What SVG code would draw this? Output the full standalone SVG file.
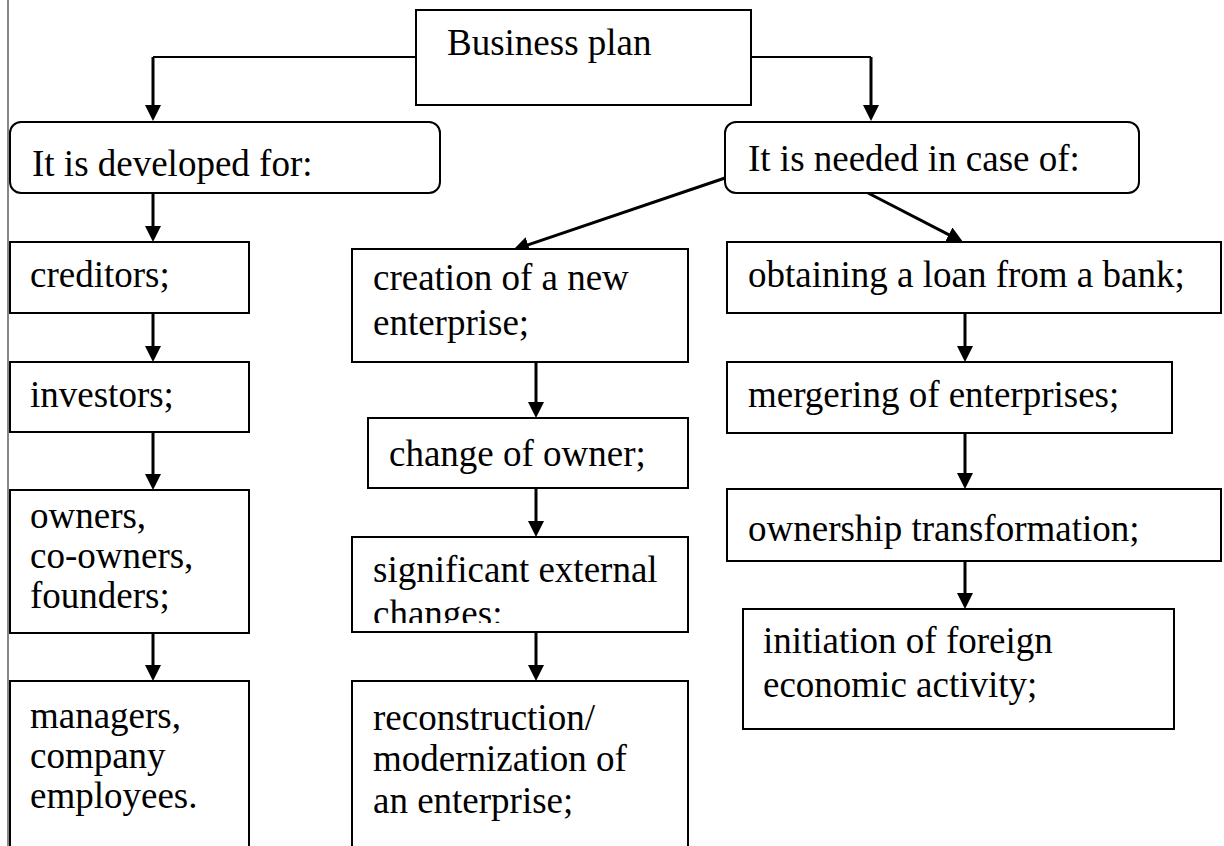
<svg xmlns="http://www.w3.org/2000/svg" width="1224" height="846" viewBox="0 0 1224 846">
<style>
.box{fill:#fff;stroke:#000;stroke-width:2}
.t{font-family:"Liberation Serif","Times New Roman",serif;font-size:37px;fill:#000}
.c{fill:none;stroke:#000;stroke-width:3}
.c2{fill:none;stroke:#000;stroke-width:2}
</style>
<defs>
<marker id="ah" viewBox="0 0 16 16" refX="8" refY="8" markerWidth="16" markerHeight="16" markerUnits="userSpaceOnUse" orient="auto">
<path d="M0,0 L16,8 L0,16 z" fill="#000"/>
</marker>
<clipPath id="clipSig"><rect x="352" y="537" width="336" height="86"/></clipPath>
</defs>
<rect width="1224" height="846" fill="#fff"/>
<line x1="8" y1="0" x2="8" y2="846" stroke="#888" stroke-width="2"/>

<g id="connectors">
<path class="c2" d="M416,57 H153"/><path class="c" d="M153,57 V113" marker-end="url(#ah)"/>
<path class="c2" d="M751,57 H871"/><path class="c" d="M871,57 V113" marker-end="url(#ah)"/>
<path class="c" d="M153,193 V234" marker-end="url(#ah)"/>
<path class="c" d="M153,313 V354" marker-end="url(#ah)"/>
<path class="c" d="M153,432 V482" marker-end="url(#ah)"/>
<path class="c" d="M153,633 V673" marker-end="url(#ah)"/>
<path class="c" d="M725,178 L520.6,247.4" marker-end="url(#ah)"/>
<path class="c" d="M868,193 L955.9,238.3" marker-end="url(#ah)"/>
<path class="c" d="M536,362 V410" marker-end="url(#ah)"/>
<path class="c" d="M536,488 V529" marker-end="url(#ah)"/>
<path class="c" d="M536,632 V673" marker-end="url(#ah)"/>
<path class="c" d="M965,313 V354" marker-end="url(#ah)"/>
<path class="c" d="M965,433 V481" marker-end="url(#ah)"/>
<path class="c" d="M965,561 V601" marker-end="url(#ah)"/>
</g>

<g id="business-plan">
<rect class="box" x="416" y="10" width="335" height="95"/>
<text class="t" x="447" y="55">Business plan</text>
</g>
<g id="developed-for">
<rect class="box" x="10" y="122" width="430" height="71" rx="11"/>
<text class="t" x="32" y="176">It is developed for:</text>
</g>
<g id="needed-in-case">
<rect class="box" x="725" y="122" width="414" height="71" rx="11"/>
<text class="t" x="748" y="171">It is needed in case of:</text>
</g>

<g id="creditors">
<rect class="box" x="10" y="242" width="239" height="71"/>
<text class="t" x="30" y="287">creditors;</text>
</g>
<g id="investors">
<rect class="box" x="10" y="362" width="239" height="70"/>
<text class="t" x="30" y="407">investors;</text>
</g>
<g id="owners">
<rect class="box" x="10" y="490" width="239" height="143"/>
<text class="t" x="30" y="528">owners,</text>
<text class="t" x="30" y="568">co-owners,</text>
<text class="t" x="30" y="608">founders;</text>
</g>
<g id="managers">
<rect class="box" x="10" y="681" width="239" height="175"/>
<text class="t" x="30" y="728">managers,</text>
<text class="t" x="30" y="768">company</text>
<text class="t" x="30" y="808">employees.</text>
</g>

<g id="creation">
<rect class="box" x="352" y="249" width="336" height="113"/>
<text class="t" x="373" y="290">creation of a new</text>
<text class="t" x="373" y="335">enterprise;</text>
</g>
<g id="change-owner">
<rect class="box" x="368" y="418" width="320" height="70"/>
<text class="t" x="389" y="466">change of owner;</text>
</g>
<g id="significant">
<rect class="box" x="352" y="537" width="336" height="95"/>
<text class="t" x="373" y="582">significant external</text>
<text class="t" x="373" y="626" clip-path="url(#clipSig)">changes:</text>
</g>
<g id="reconstruction">
<rect class="box" x="352" y="681" width="336" height="175"/>
<text class="t" x="373" y="730">reconstruction/</text>
<text class="t" x="373" y="771">modernization of</text>
<text class="t" x="373" y="813">an enterprise;</text>
</g>

<g id="loan">
<rect class="box" x="727" y="242" width="494" height="71"/>
<text class="t" x="748" y="287">obtaining a loan from a bank;</text>
</g>
<g id="mergering">
<rect class="box" x="727" y="362" width="445" height="71"/>
<text class="t" x="748" y="407">mergering of enterprises;</text>
</g>
<g id="ownership">
<rect class="box" x="727" y="489" width="494" height="72"/>
<text class="t" x="748" y="541">ownership transformation;</text>
</g>
<g id="initiation">
<rect class="box" x="743" y="609" width="431" height="120"/>
<text class="t" x="763" y="653">initiation of foreign</text>
<text class="t" x="763" y="697">economic activity;</text>
</g>
</svg>
